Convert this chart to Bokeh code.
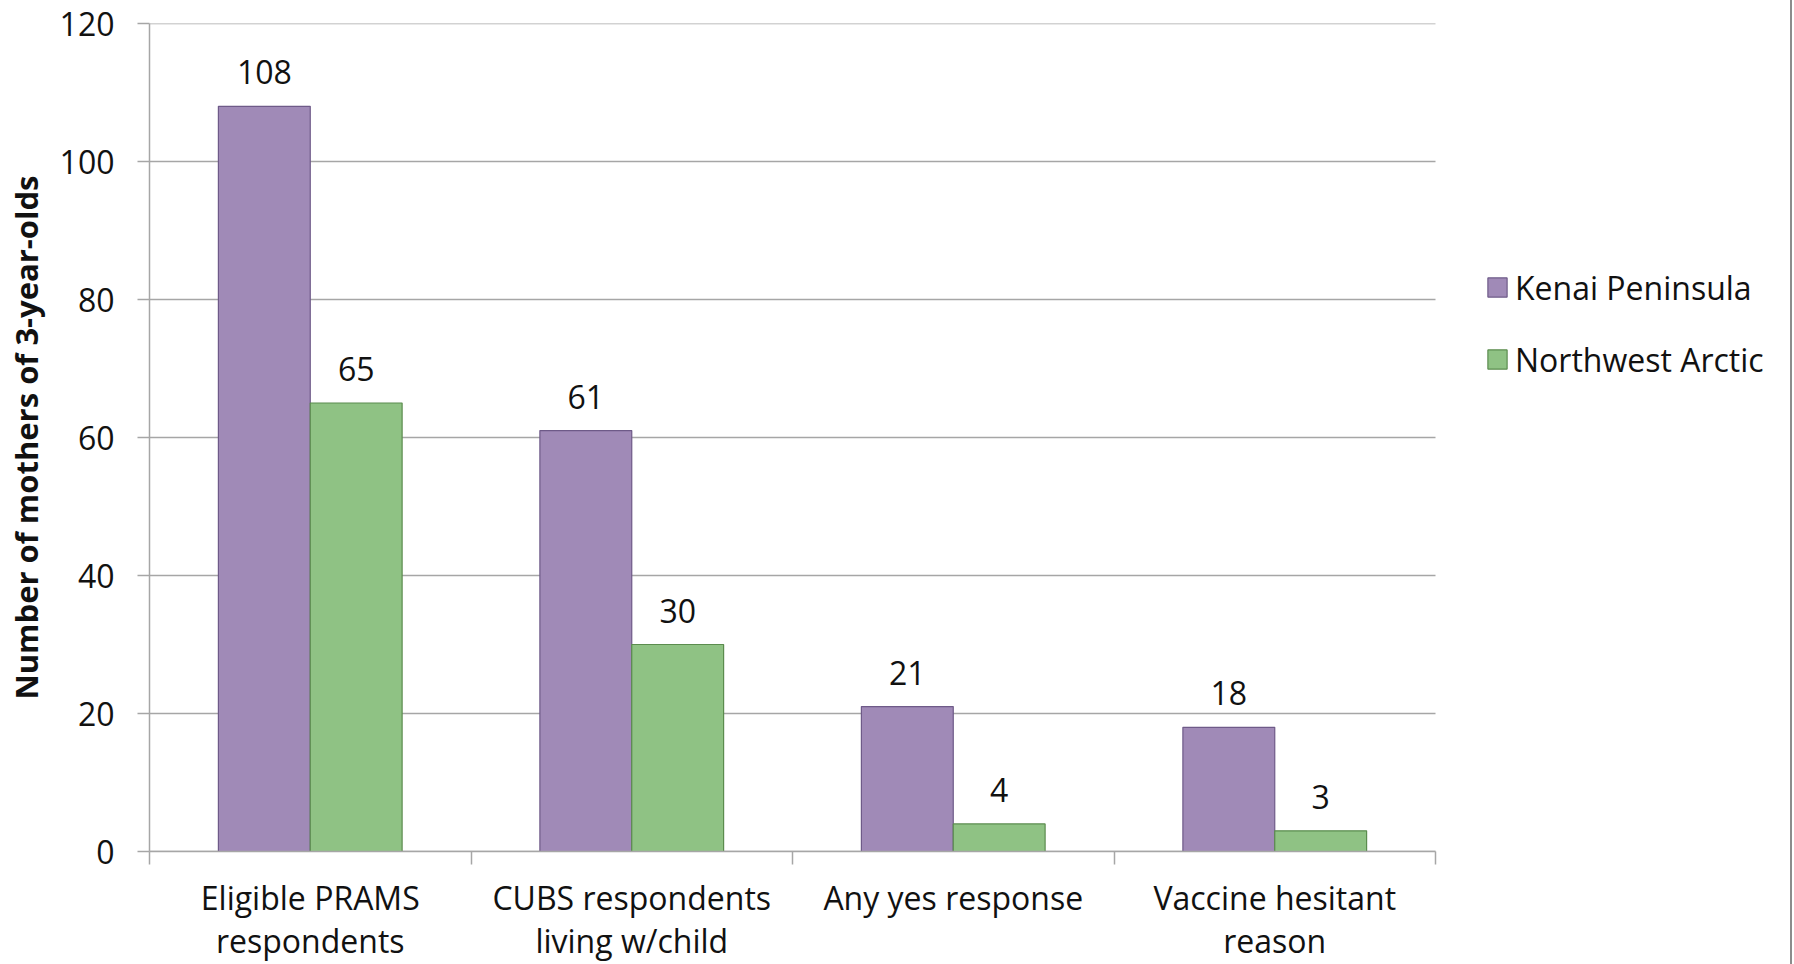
import numpy as np
from bokeh.plotting import figure
from bokeh.models import FixedTicker, Range1d, ColumnDataSource, Legend, LegendItem
from bokeh.core.properties import value
from bokeh.embed import file_html
from bokeh.resources import INLINE

categories = ["Eligible PRAMS\nrespondents", "CUBS respondents\nliving w/child",
              "Any yes response", "Vaccine hesitant\nreason"]
kenai = [108, 61, 21, 18]
northwest = [65, 30, 4, 3]
series_names = ["Kenai Peninsula", "Northwest Arctic"]
y_ticks = [0, 20, 40, 60, 80, 100, 120]
y_label = "Number of mothers of 3-year-olds"

FONT = "Open Sans"
FS = "32px"
TXT = "#111111"
GRID = "#a6a6a6"
PURPLE, PURPLE_LINE = "#a08ab7", "#6e5a88"
GREEN, GREEN_LINE = "#8fc284", "#5b8c4e"

W, H = 1792, 964
FRAME_L, DATA_R = 149, 1435      # pixel extent of the category area
n = len(categories)
centers = np.arange(n) + 0.5
bw = 1 / 3.5
x_end = n * (W - FRAME_L) / (DATA_R - FRAME_L)   # frame extends to the right edge (room for legend)

p = figure(width=W, height=H, x_range=Range1d(0, x_end), y_range=Range1d(0, 120),
           output_backend="svg", toolbar_location=None,
           min_border_left=FRAME_L, min_border_right=0, min_border_top=23, min_border_bottom=111)
p.outline_line_color = None
p.background_fill_color = "white"
p.border_fill_color = "white"
p.styles = {"border-right": "2px solid #8c8c8c"}

# horizontal gridlines limited to the category area
p.xgrid.visible = False
p.ygrid.visible = False
p.segment(x0=0, y0=y_ticks, x1=n, y1=y_ticks, line_color=GRID, line_width=1.5)

src_k = ColumnDataSource(dict(x=centers - bw / 2, top=kenai, lab=[str(v) for v in kenai]))
src_n = ColumnDataSource(dict(x=centers + bw / 2, top=northwest, lab=[str(v) for v in northwest]))

rk = p.vbar(x="x", top="top", bottom=0, width=bw, source=src_k,
            fill_color=PURPLE, line_color=PURPLE_LINE, line_width=1.2)
rn = p.vbar(x="x", top="top", bottom=0, width=bw, source=src_n,
            fill_color=GREEN, line_color=GREEN_LINE, line_width=1.2)

for src in (src_k, src_n):
    p.text(x="x", y="top", text="lab", source=src, text_align="center", text_baseline="middle",
           y_offset=-34, text_font=value(FONT), text_font_size=FS, text_color=TXT)

# y axis
ya = p.yaxis[0]
ya.ticker = FixedTicker(ticks=y_ticks)
ya.axis_line_color = GRID
ya.axis_line_width = 1.5
ya.major_tick_line_color = GRID
ya.major_tick_line_width = 1.5
ya.major_tick_out = 12
ya.major_tick_in = 0
ya.minor_tick_line_color = None
ya.major_label_standoff = 23
ya.major_label_text_font = FONT
ya.major_label_text_font_size = FS
ya.major_label_text_color = TXT
ya.axis_label = y_label
ya.axis_label_text_font = FONT
ya.axis_label_text_font_size = "31px"
ya.axis_label_text_font_style = "bold"
ya.axis_label_text_color = TXT
ya.axis_label_standoff = 10

# x axis
xa = p.xaxis[0]
xa.bounds = (0, n)
xa.ticker = FixedTicker(ticks=list(centers), minor_ticks=list(range(n + 1)))
xa.major_label_overrides = {float(c): lab for c, lab in zip(centers, categories)}
xa.axis_line_color = GRID
xa.axis_line_width = 1.5
xa.major_tick_line_color = None
xa.major_tick_out = 13
xa.major_tick_in = 0
xa.minor_tick_line_color = GRID
xa.minor_tick_line_width = 1.5
xa.minor_tick_out = 13
xa.minor_tick_in = 0
xa.major_label_standoff = 11
xa.major_label_text_font = FONT
xa.major_label_text_font_size = FS
xa.major_label_text_color = TXT
xa.major_label_text_line_height = 1.0

legend = Legend(items=[LegendItem(label=series_names[0], renderers=[rk]),
                       LegendItem(label=series_names[1], renderers=[rn])],
                location=(1336, 470), orientation="vertical",
                glyph_width=24, glyph_height=24, label_height=44, spacing=28,
                label_standoff=6, padding=0, margin=0,
                border_line_color=None, background_fill_alpha=0,
                label_text_font=FONT, label_text_font_size=FS, label_text_color=TXT)
p.add_layout(legend, "center")

open("out.html", "w").write(file_html(p, INLINE))
